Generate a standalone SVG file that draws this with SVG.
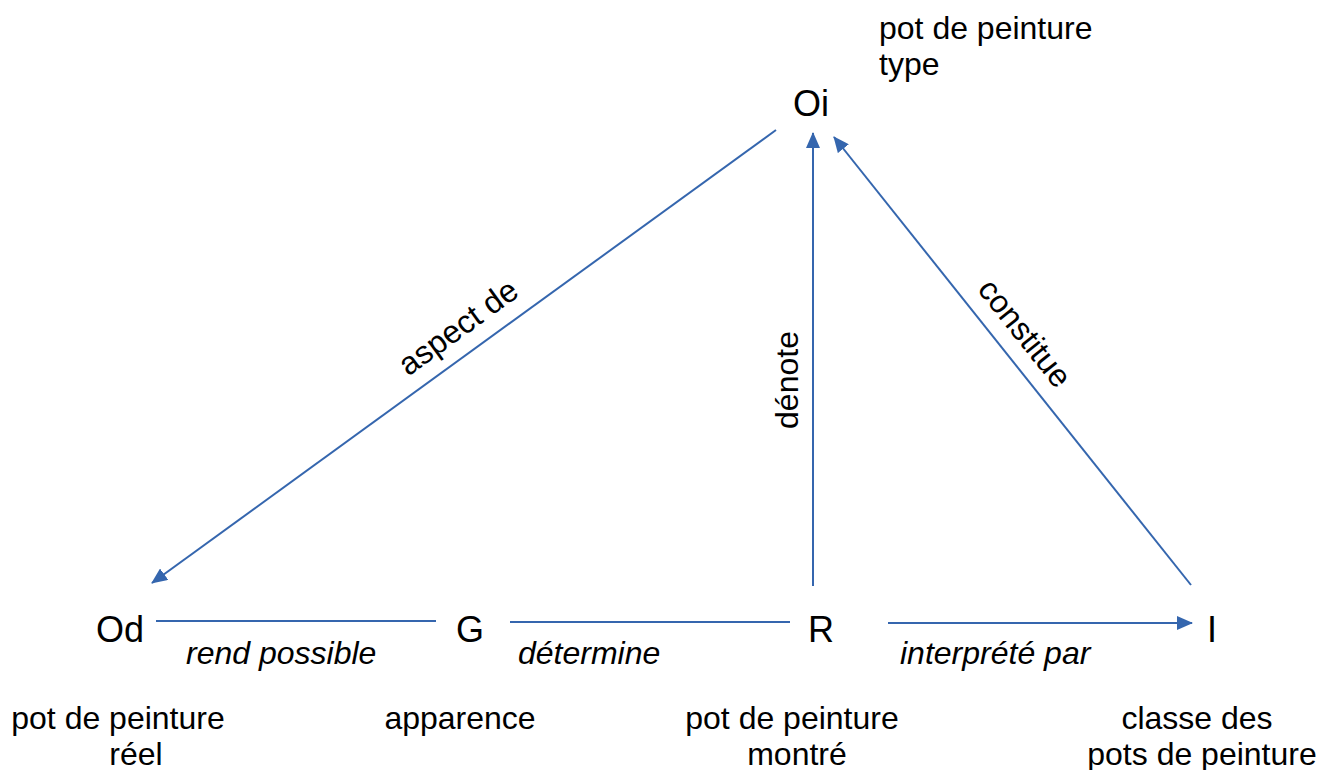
<svg xmlns="http://www.w3.org/2000/svg" width="1321" height="770" viewBox="0 0 1321 770">
<style>
text{font-family:"Liberation Sans",Arial,sans-serif;font-size:32px;fill:#000}
.it{font-style:italic}
.nd{font-size:36px}
.ln{stroke:#3566AE;stroke-width:2;fill:none}
</style>
<defs>
<marker id="ah" markerUnits="userSpaceOnUse" markerWidth="16" markerHeight="14" refX="15" refY="7" orient="auto">
<path d="M0,0 L16,7 L0,14 Z" fill="#3566AE"/>
</marker>
</defs>
<rect width="1321" height="770" fill="#fff"/>
<g id="connectors">
<line class="ln" x1="776" y1="130" x2="152" y2="583" marker-end="url(#ah)"/>
<line class="ln" x1="813" y1="586" x2="813" y2="133" marker-end="url(#ah)"/>
<line class="ln" x1="1191" y1="585" x2="834" y2="137" marker-end="url(#ah)"/>
<line class="ln" x1="156" y1="621" x2="436" y2="621"/>
<line class="ln" x1="510" y1="622" x2="790" y2="622"/>
<line class="ln" x1="888" y1="623" x2="1192" y2="623" marker-end="url(#ah)"/>
<text transform="translate(458,327) rotate(-36)" text-anchor="middle" dy="11">aspect de</text>
<text transform="translate(787,380) rotate(-90)" text-anchor="middle" dy="11">dénote</text>
<text transform="translate(1025,333) rotate(51.4)" text-anchor="middle" dy="11">constitue</text>
<text class="it" x="186" y="664">rend possible</text>
<text class="it" x="518" y="664">détermine</text>
<text class="it" x="900" y="664">interprété par</text>
</g>
<g id="Oi">
<text class="nd" x="793" y="116">Oi</text>
<text x="879" y="39">pot de peinture</text>
<text x="879" y="75">type</text>
</g>
<g id="Od">
<text class="nd" x="96" y="642">Od</text>
<text x="118" y="729" text-anchor="middle">pot de peinture</text>
<text x="136" y="765" text-anchor="middle">réel</text>
</g>
<g id="G">
<text class="nd" x="456" y="642">G</text>
<text x="460" y="729" text-anchor="middle">apparence</text>
</g>
<g id="R">
<text class="nd" x="808" y="642">R</text>
<text x="792" y="729" text-anchor="middle">pot de peinture</text>
<text x="797" y="765" text-anchor="middle">montré</text>
</g>
<g id="I">
<text class="nd" x="1207" y="642">I</text>
<text x="1197" y="729" text-anchor="middle">classe des</text>
<text x="1202" y="765" text-anchor="middle">pots de peinture</text>
</g>
</svg>
